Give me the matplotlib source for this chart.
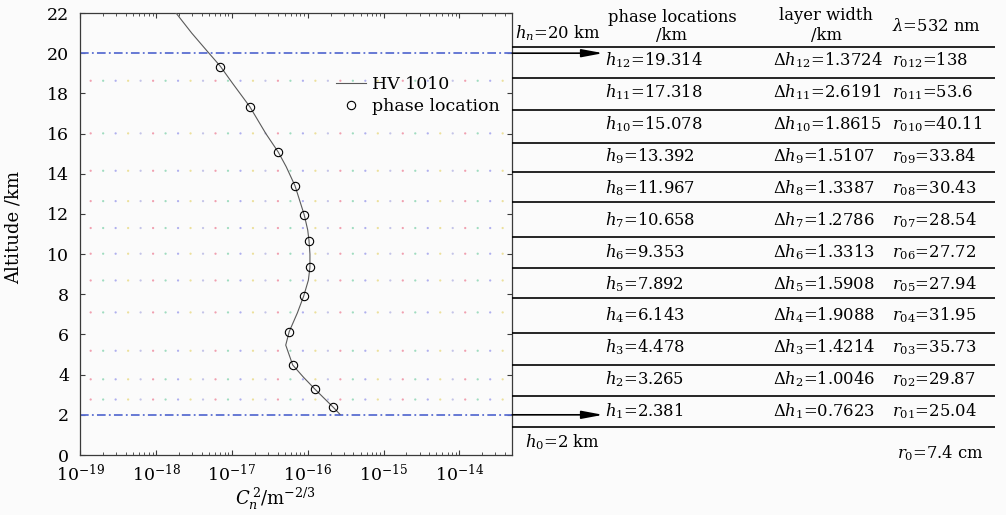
import matplotlib
matplotlib.use('Agg')
import matplotlib.pyplot as plt
import numpy as np
from matplotlib.ticker import LogLocator, NullFormatter, LogFormatterSciNotation

plt.rcParams['font.family'] = ['DejaVu Serif']
plt.rcParams['mathtext.fontset'] = 'dejavuserif'

# ---------------- data ----------------
curve_alt = [22.0, 21.0, 20.07, 19.36, 18.5, 17.34, 16.0, 15.07, 14.35, 13.4, 11.95, 11.2,
             10.67, 10.0, 9.34, 8.7, 7.91, 7.07, 6.14, 5.47, 4.48, 3.88, 3.27, 2.37, 2.02]
curve_cn2 = [1.83e-18, 2.95e-18, 4.8e-18, 7.0e-18, 1.02e-17, 1.72e-17, 2.8e-17, 4.1e-17, 5.2e-17,
             6.8e-17, 9.0e-17, 1.0e-16, 1.04e-16, 1.07e-16, 1.07e-16, 1.02e-16, 8.85e-17, 7.3e-17,
             5.7e-17, 5.13e-17, 6.34e-17, 8.75e-17, 1.25e-16, 2.18e-16, 2.67e-16]

layer_index = [12, 11, 10, 9, 8, 7, 6, 5, 4, 3, 2, 1]
phase_h = [19.314, 17.318, 15.078, 13.392, 11.967, 10.658, 9.353, 7.892, 6.143, 4.478, 3.265, 2.381]
phase_cn2 = [7.0e-18, 1.72e-17, 4.1e-17, 6.8e-17, 9.0e-17, 1.04e-16, 1.07e-16, 8.85e-17,
             5.7e-17, 6.34e-17, 1.25e-16, 2.18e-16]
layer_dh = [1.3724, 2.6191, 1.8615, 1.5107, 1.3387, 1.2786, 1.3313, 1.5908, 1.9088, 1.4214, 1.0046, 0.7623]
layer_r0 = [138, 53.6, 40.11, 33.84, 30.43, 28.54, 27.72, 27.94, 31.95, 35.73, 29.87, 25.04]

h_top = 20     # h_n
h_bottom = 2   # h_0
lam_nm = 532
r0_total = 7.4

y_ticks = list(range(0, 23, 2))
x_ticks = [1e-19, 1e-18, 1e-17, 1e-16, 1e-15, 1e-14]

# ---------------- figure ----------------
W, H = 1006, 515
bg = '#fbfbfb'
fig = plt.figure(figsize=(W / 100, H / 100), dpi=100, facecolor=bg)
ax = fig.add_axes([80.3 / W, 60 / H, 432 / W, 442 / H], facecolor=bg)

spine_col = '#3a3a3a'
for s in ax.spines.values():
    s.set_color(spine_col)
    s.set_linewidth(0.9)

# coloured dotted grid at layer boundaries
bounds = [h + d / 2 for h, d in zip(phase_h[1:], layer_dh[1:])]
dot_cols = ['#f0a0b0', '#a0dcc0', '#b0b0ee', '#ece09c', '#c4c4e8']
xs = np.arange(0.024, 1.0, 0.0289)
for b in bounds:
    ax.scatter(xs, [b] * len(xs), s=2.6, c=[dot_cols[i % len(dot_cols)] for i in range(len(xs))],
               transform=ax.get_yaxis_transform(), zorder=1, linewidths=0)

# boundary lines
for hb in (h_top, h_bottom):
    ax.axhline(hb, color='#5b6fd2', lw=1.3, ls=(0, (4.8, 1.8, 1.0, 1.8)), zorder=2)

line, = ax.plot(curve_cn2, curve_alt, color='#5a5a5a', lw=0.8, zorder=3, label='HV 1010')
pts, = ax.plot(phase_cn2, phase_h, ls='none', marker='o', ms=6.0, mfc='none', mec='black',
               mew=0.8, zorder=4, label='phase location')

ax.set_xscale('log')
ax.set_xlim(1e-19, 5e-14)
ax.set_ylim(0, 22)
ax.set_yticks(y_ticks)
ax.set_xticks(x_ticks)
ax.xaxis.set_major_formatter(LogFormatterSciNotation())
ax.xaxis.set_minor_locator(LogLocator(base=10, subs=np.arange(2, 10), numticks=100))
ax.xaxis.set_minor_formatter(NullFormatter())

ax.tick_params(which='both', direction='in', top=True, right=True, color=spine_col)
ax.tick_params(which='major', length=3.8, width=0.8, labelsize=12.5)
ax.tick_params(which='minor', length=2.0, width=0.6)
ax.tick_params(axis='y', pad=8.0)
ax.tick_params(axis='x', pad=6.5)

ax.set_ylabel('Altitude /km', fontsize=13)
ax.yaxis.set_label_coords(-0.133, 0.514)
ax.set_xlabel(r'$C_n^{\,2}$/m$^{-2/3}$', fontsize=13)
ax.xaxis.set_label_coords(0.451, -0.07)

ax.legend(handles=[line, pts], loc='upper left',
          bbox_to_anchor=((336 - 80.3) / 432, (455 - 76) / 442),
          frameon=False, fontsize=12.5, handlelength=1.75, handletextpad=0.3,
          borderpad=0, borderaxespad=0, labelspacing=0.3)

# arrows into the table
for hb in (h_top, h_bottom):
    ax.annotate('', xy=(1.21, hb), xytext=(1.0, hb), xycoords=ax.get_yaxis_transform(),
                arrowprops=dict(arrowstyle='-|>,head_length=0.8,head_width=0.15', color='black',
                                lw=1.2, shrinkA=0, shrinkB=0, mutation_scale=16),
                annotation_clip=False)

# ---------------- table (pixel layout overlay) ----------------
tab = fig.add_axes([0, 0, 1, 1])
tab.set_xlim(0, W)
tab.set_ylim(H, 0)
tab.axis('off')
tab.patch.set_alpha(0)

rule_y = [47, 78, 110, 142.5, 171.7, 201.7, 237.3, 267.8, 298.3, 333.3, 365, 396, 427]
for y in rule_y:
    tab.plot([512.5, 995], [y, y], color='black', lw=1.2, solid_capstyle='butt')

fs = 11.8
base = np.linspace(65, 416.7, len(phase_h))
for k, (i, h, d, r) in enumerate(zip(layer_index, phase_h, layer_dh, layer_r0)):
    y = base[k]
    tab.text(605, y, rf'$h_{{{i}}}$={h:g}', fontsize=fs, va='baseline', ha='left')
    tab.text(773, y, rf'$\Delta h_{{{i}}}$={d:g}', fontsize=fs, va='baseline', ha='left')
    tab.text(892, y, rf'$r_{{0{i}}}$={r:g}', fontsize=fs, va='baseline', ha='left')

tab.text(672, 22, 'phase locations', fontsize=fs, va='baseline', ha='center')
tab.text(672, 40, '/km', fontsize=fs, va='baseline', ha='center')
tab.text(826, 20, 'layer width', fontsize=fs, va='baseline', ha='center')
tab.text(827, 40, '/km', fontsize=fs, va='baseline', ha='center')
tab.text(892, 31, rf'$\lambda$={lam_nm} nm', fontsize=fs, va='baseline', ha='left')
tab.text(515, 38, rf'$h_n$={h_top} km', fontsize=fs, va='baseline', ha='left')
tab.text(525, 447, rf'$h_0$={h_bottom} km', fontsize=fs, va='baseline', ha='left')
tab.text(897, 458, rf'$r_0$={r0_total:g} cm', fontsize=fs, va='baseline', ha='left')

fig.savefig('out.png', dpi=100, facecolor=bg)
